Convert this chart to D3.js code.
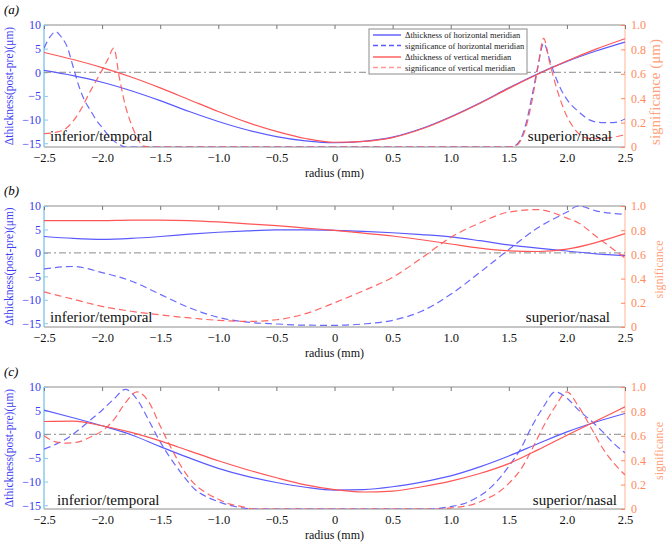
<!DOCTYPE html>
<html><head><meta charset="utf-8">
<script src="https://cdn.jsdelivr.net/npm/d3@7"></script>
<style>
html,body{margin:0;padding:0;background:#fff;}
svg{display:block;font-family:"Liberation Serif","Times New Roman",serif;}
</style></head>
<body>
<svg id="chart" width="666" height="545"></svg>
<script>
// ---------------- data ----------------
const panelNames = ["(a)", "(b)", "(c)"];
const xTicks = [-2.5, -2.0, -1.5, -1.0, -0.5, 0, 0.5, 1.0, 1.5, 2.0, 2.5];
const leftTicks = [10, 5, 0, -5, -10, -15];
const rightTicks = [0, 0.2, 0.4, 0.6, 0.8, 1.0];
const rightLabels = ["significance (μm)", "significance", "significance"];
const legendLabels = ["Δthickness of horizontal meridian", "significance of horizontal meridian",
                      "Δthickness of vertical meridian", "significance of vertical meridian"];

// radius grid for the thickness curves
const radius = [-2.5, -2.25, -2.0, -1.75, -1.5, -1.25, -1.0, -0.75, -0.5, -0.25, 0,
                0.25, 0.5, 0.75, 1.0, 1.25, 1.5, 1.75, 2.0, 2.25, 2.5];

// panel (a)
const thickH_a = [0.4, -0.7, -2.1, -3.9, -6.0, -8.3, -10.4, -12.2, -13.6, -14.5, -14.9,
                  -14.6, -13.7, -11.9, -9.4, -6.5, -3.3, -0.3, 2.3, 4.5, 6.4];
const thickV_a = [4.2, 2.7, 1.0, -1.0, -3.3, -5.8, -8.3, -10.6, -12.5, -14.0, -14.8,
                  -14.6, -13.8, -12.0, -9.5, -6.6, -3.4, -0.4, 2.4, 4.9, 7.1];
const sigHx_a = [-2.5, -2.45, -2.4, -2.35, -2.3, -2.25, -2.2, -2.15, -2.1, -2.05, -2.0, -1.95, -1.9, -1.85, -1.8,
                 1.5, 1.55, 1.6, 1.65, 1.7, 1.75, 1.8, 1.85, 1.9, 1.95, 2.0, 2.1, 2.2, 2.3, 2.4, 2.5];
const sigH_a  = [0.81, 0.9, 0.945, 0.9, 0.82, 0.66, 0.5, 0.38, 0.3, 0.22, 0.16, 0.1, 0.05, 0.02, 0.0,
                 0.0, 0.01, 0.06, 0.2, 0.42, 0.66, 0.85, 0.72, 0.58, 0.47, 0.39, 0.29, 0.22, 0.2, 0.2, 0.23];
const sigVx_a = [-2.5, -2.4, -2.3, -2.2, -2.1, -2.0, -1.95, -1.9, -1.85, -1.8, -1.75, -1.7, -1.65, -1.6,
                 1.5, 1.55, 1.6, 1.65, 1.7, 1.75, 1.8, 1.85, 1.9, 1.95, 2.0, 2.05, 2.1, 2.2, 2.3, 2.4, 2.5];
const sigV_a  = [0.11, 0.12, 0.16, 0.28, 0.46, 0.63, 0.72, 0.81, 0.56, 0.34, 0.19, 0.08, 0.01, 0.0,
                 0.0, 0.005, 0.05, 0.17, 0.38, 0.65, 0.89, 0.7, 0.52, 0.37, 0.25, 0.17, 0.11, 0.07, 0.07, 0.08, 0.1];

// panel (b)
const thickH_b = [3.5, 3.1, 2.9, 3.1, 3.5, 4.0, 4.4, 4.7, 4.9, 4.9, 4.8,
                  4.6, 4.3, 3.9, 3.4, 2.6, 1.7, 1.0, 0.4, -0.2, -0.6];
const thickV_b = [6.9, 6.9, 6.9, 7.0, 7.0, 6.9, 6.6, 6.2, 5.8, 5.3, 4.8,
                  4.2, 3.6, 2.8, 1.9, 1.0, 0.45, 0.3, 0.8, 2.2, 4.1];
const sigHx_b = [-2.5, -2.25, -2.0, -1.75, -1.5, -1.25, -1.0, -0.75, -0.5, -0.25, 0,
                 0.25, 0.5, 0.75, 1.0, 1.25, 1.5, 1.75, 2.0, 2.1, 2.25, 2.5];
const sigH_b  = [0.48, 0.5, 0.45, 0.38, 0.27, 0.16, 0.08, 0.04, 0.025, 0.015, 0.014,
                 0.025, 0.055, 0.13, 0.27, 0.45, 0.64, 0.82, 0.95, 1.0, 0.96, 0.93];
const sigV_b  = [0.29, 0.23, 0.17, 0.13, 0.1, 0.075, 0.055, 0.046, 0.06, 0.11, 0.2,
                 0.3, 0.41, 0.57, 0.74, 0.86, 0.95, 0.97, 0.9, 0.86, 0.75, 0.57];

// panel (c)
const thickH_c = [5.1, 3.5, 1.8, -0.1, -2.6, -5.0, -7.2, -8.9, -10.2, -11.2, -11.8,
                  -11.7, -11.1, -10.1, -8.8, -6.9, -4.6, -2.0, 0.5, 2.6, 4.4];
const thickV_c = [2.7, 2.8, 1.8, 0.4, -1.4, -3.5, -5.6, -7.5, -9.2, -10.7, -11.7,
                  -12.2, -12.0, -11.1, -9.9, -8.3, -6.2, -3.3, -0.2, 2.8, 5.8];
const sigX_c = [-2.5, -2.4, -2.3, -2.2, -2.1, -2.0, -1.9, -1.8, -1.7, -1.6, -1.5, -1.4, -1.3, -1.2, -1.1,
                -1.0, -0.9, -0.8, -0.7, 0, 0.8, 0.9, 1.0, 1.1, 1.2, 1.3, 1.4, 1.5, 1.6, 1.7, 1.8, 1.9,
                2.0, 2.1, 2.2, 2.3, 2.4, 2.5];
const sigH_c = [0.49, 0.53, 0.58, 0.65, 0.73, 0.81, 0.9, 0.98, 0.9, 0.73, 0.55, 0.4, 0.27, 0.16, 0.1,
                0.06, 0.03, 0.01, 0.0, 0.0, 0.0, 0.005, 0.02, 0.04, 0.08, 0.14, 0.23, 0.35, 0.49, 0.68, 0.84, 0.96,
                0.91, 0.81, 0.73, 0.64, 0.54, 0.46];
const sigV_c = [0.6, 0.55, 0.54, 0.55, 0.59, 0.64, 0.73, 0.87, 0.96, 0.88, 0.68, 0.49, 0.32, 0.2, 0.13,
                0.08, 0.04, 0.02, 0.0, 0.0, 0.0, 0.0, 0.01, 0.02, 0.04, 0.08, 0.13, 0.21, 0.32, 0.49, 0.68, 0.84,
                0.96, 0.84, 0.68, 0.51, 0.38, 0.28];

const panels = [
  {thickH: thickH_a, thickV: thickV_a, sigHx: sigHx_a, sigH: sigH_a, sigVx: sigVx_a, sigV: sigV_a},
  {thickH: thickH_b, thickV: thickV_b, sigHx: sigHx_b, sigH: sigH_b, sigVx: sigHx_b, sigV: sigV_b},
  {thickH: thickH_c, thickV: thickV_c, sigHx: sigX_c, sigH: sigH_c, sigVx: sigX_c, sigV: sigV_c}
];

// ---------------- layout / style ----------------
const plotLeft = 44, plotRight = 625;
const tops = [25, 206, 387], bottoms = [147, 327, 509];
const BLUE = "#5a5aff", RED = "#ff5555", BLUE_TXT = "#3c3cf0", ORANGE = "#ff8a5c";
const svg = d3.select("#chart");
const x = d3.scaleLinear().domain([-2.5, 2.5]).range([plotLeft, plotRight]);
const fmtX = d => d === 0 ? "0" : d3.format(".1f")(d).replace("-", "−");
const fmtL = d => String(d).replace("-", "−");
const fmtR = d => d === 0 ? "0" : d3.format(".1f")(d);

panels.forEach((p, i) => {
  const top = tops[i], bottom = bottoms[i];
  const yL = d3.scaleLinear().domain([-15.8, 10]).range([bottom, top]);
  const yR = d3.scaleLinear().domain([0, 1]).range([bottom, top]);
  const g = svg.append("g");
  const clipId = "clip" + i;
  svg.append("clipPath").attr("id", clipId).append("rect")
    .attr("x", plotLeft).attr("y", top - 1).attr("width", plotRight - plotLeft).attr("height", bottom - top + 1);

  // panel letter
  g.append("text").attr("x", 4).attr("y", top - 11).attr("font-size", 13).attr("font-style", "italic")
    .text(panelNames[i]);

  // frame
  g.append("line").attr("x1", plotLeft).attr("x2", plotRight).attr("y1", top).attr("y2", top).attr("stroke", "#8c8c8c");
  g.append("line").attr("x1", plotLeft).attr("x2", plotRight).attr("y1", bottom).attr("y2", bottom).attr("stroke", "#8c8c8c");
  g.append("line").attr("x1", plotRight).attr("x2", plotRight).attr("y1", top).attr("y2", bottom).attr("stroke", "#ffb597");
  g.append("line").attr("x1", plotLeft).attr("x2", plotLeft).attr("y1", top).attr("y2", bottom).attr("stroke", "#8cc8ec").attr("stroke-width", 1.5);

  // top ticks
  const topAx = g.append("g").attr("transform", `translate(0,${top})`)
    .call(d3.axisTop(x).tickValues(xTicks).tickSize(-4).tickFormat(""));
  topAx.select(".domain").remove();
  topAx.selectAll("line").attr("stroke", "#777");

  // bottom labels
  const botAx = g.append("g").attr("transform", `translate(0,${bottom})`)
    .call(d3.axisBottom(x).tickValues(xTicks).tickSize(0).tickPadding(6).tickFormat(fmtX));
  botAx.select(".domain").remove();
  botAx.attr("font-family", null);
  botAx.selectAll("text").attr("font-size", 12.5).attr("fill", "#111");

  // left axis
  const lAx = g.append("g").attr("transform", `translate(${plotLeft},0)`)
    .call(d3.axisLeft(yL).tickValues(leftTicks).tickSize(-4).tickPadding(3).tickFormat(fmtL));
  lAx.select(".domain").remove();
  lAx.attr("font-family", null);
  lAx.selectAll("line").attr("stroke", "#8cc8ec");
  lAx.selectAll("text").attr("font-size", 12).attr("fill", BLUE_TXT);

  // right axis
  const rAx = g.append("g").attr("transform", `translate(${plotRight},0)`)
    .call(d3.axisRight(yR).tickValues(rightTicks).tickSize(-4).tickPadding(6).tickFormat(fmtR));
  rAx.select(".domain").remove();
  rAx.attr("font-family", null);
  rAx.selectAll("line").attr("stroke", ORANGE);
  rAx.selectAll("text").attr("font-size", 12).attr("fill", ORANGE);

  // axis titles
  const midY = (top + bottom) / 2;
  g.append("text").attr("transform", `translate(12.5,${midY}) rotate(-90)`).attr("text-anchor", "middle")
    .attr("font-size", 11.5).attr("fill", BLUE_TXT).text("Δthickness(post-pre)(μm)");
  const rFont = i === 0 ? 15 : 12;
  const rX = i === 0 ? 659.5 : 662.5;
  g.append("text").attr("transform", `translate(${rX},${midY + (i === 0 ? 6 : 3)}) rotate(-90)`).attr("text-anchor", "middle")
    .attr("font-size", rFont).attr("fill", "#ff9f7c").text(rightLabels[i]);
  g.append("text").attr("x", (plotLeft + plotRight) / 2).attr("y", bottom + 29.5).attr("text-anchor", "middle")
    .attr("font-size", 12).attr("fill", "#111").text("radius (mm)");

  // zero reference line (dash-dot)
  g.append("line").attr("x1", plotLeft).attr("x2", plotRight).attr("y1", yL(0)).attr("y2", yL(0))
    .attr("stroke", "#8a8a8a").attr("stroke-width", 1).attr("stroke-dasharray", "7,3,2,3");

  const plot = g.append("g").attr("clip-path", `url(#${clipId})`);
  const lineL = d3.line().x(d => x(d[0])).y(d => yL(d[1])).curve(d3.curveMonotoneX);
  const lineR = d3.line().x(d => x(d[0])).y(d => yR(d[1])).curve(d3.curveMonotoneX);

  const series = [
    {pts: d3.zip(radius, p.thickH), line: lineL, color: BLUE, dash: null},
    {pts: d3.zip(p.sigHx, p.sigH), line: lineR, color: BLUE, dash: "7,4"},
    {pts: d3.zip(radius, p.thickV), line: lineL, color: RED, dash: null},
    {pts: d3.zip(p.sigVx, p.sigV), line: lineR, color: RED, dash: "7,4"}
  ];
  series.forEach(s => {
    plot.append("path").attr("d", s.line(s.pts)).attr("fill", "none")
      .attr("stroke", s.color).attr("stroke-width", 1.2)
      .attr("stroke-opacity", s.dash ? 0.9 : 1)
      .attr("stroke-dasharray", s.dash);
  });

  // region labels
  const regionY = [141, 322, 505][i];
  g.append("text").attr("x", i === 2 ? 57 : 50).attr("y", regionY).attr("font-size", 15).attr("fill", "#111")
    .text("inferior/temporal");
  g.append("text").attr("x", i === 2 ? 617 : (i === 0 ? 612 : 610)).attr("y", regionY).attr("text-anchor", "end")
    .attr("font-size", 15).attr("fill", "#111").text("superior/nasal");

  // legend in panel (a)
  if (i === 0) {
    const lg = g.append("g");
    lg.append("rect").attr("x", 369).attr("y", 29).attr("width", 158).attr("height", 45)
      .attr("fill", "#fff").attr("stroke", "#8c8c8c").attr("stroke-width", 1);
    const rows = [35, 45.5, 57, 67.5];
    const styles = [[BLUE, null, 1], [BLUE, "5,3", 1], [RED, null, 1], [RED, "5,3", 0.6]];
    legendLabels.forEach((lab, k) => {
      lg.append("line").attr("x1", 373).attr("x2", 401).attr("y1", rows[k]).attr("y2", rows[k])
        .attr("stroke", styles[k][0]).attr("stroke-width", 1.4)
        .attr("stroke-opacity", styles[k][2]).attr("stroke-dasharray", styles[k][1]);
      lg.append("text").attr("x", 405).attr("y", rows[k] + 3).attr("font-size", 8.5).attr("fill", "#222").text(lab);
    });
  }
});
</script>
</body></html>
